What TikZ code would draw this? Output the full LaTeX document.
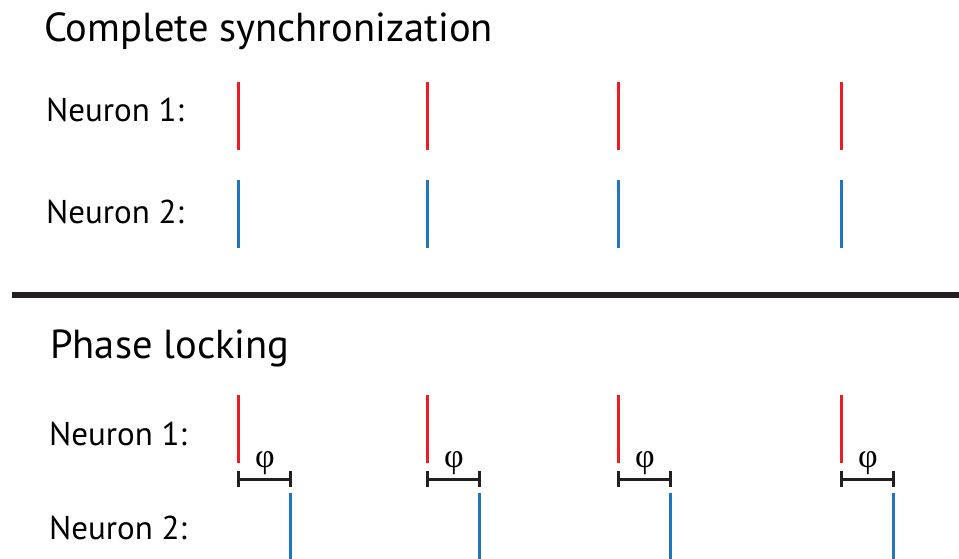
\documentclass[tikz,border=0pt]{standalone}
\usepackage{fontspec}
\setmainfont{PT Sans}
\newfontfamily\phifont{Liberation Serif}
\begin{document}
\begin{tikzpicture}[x=1pt,y=-1pt,
  spikeR/.style={draw=redc,line width=3pt},
  spikeB/.style={draw=bluec,line width=3pt},
  lbl/.style={anchor=base west,inner sep=0pt,font=\fontsize{33}{36}\selectfont},
  ttl/.style={anchor=base west,inner sep=0pt,font=\fontsize{40.5}{44}\selectfont},
  brk/.style={draw=barc,line width=3pt},
  phi/.style={inner sep=0pt,anchor=base,font=\phifont\fontsize{34}{38}\selectfont}]
\definecolor{redc}{HTML}{ED1C24}
\definecolor{bluec}{HTML}{1F75BE}
\definecolor{barc}{HTML}{231F20}
\useasboundingbox (0,0) rectangle (959,559);
\node[ttl] (t1) at (44,42) {Complete synchronization};
\node[lbl] (n11) at (46,122) {Neuron 1:};
\node[lbl] (n12) at (46,223) {Neuron 2:};
\foreach \x [count=\i] in {238,427,618,841}{
  \coordinate (ra\i) at (\x,82); \coordinate (rb\i) at (\x,150);
  \coordinate (ba\i) at (\x,180); \coordinate (bb\i) at (\x,248);
  \draw[spikeR] (ra\i) -- (rb\i);
  \draw[spikeB] (ba\i) -- (bb\i);
}
\coordinate (barL) at (12,295); \coordinate (barR) at (959,295);
\draw[draw=barc,line width=6pt] (barL) -- (barR);
\node[ttl] (t2) at (50,358) {Phase locking};
\node[lbl] (n21) at (49,445) {Neuron 1:};
\node[lbl] (n22) at (49,539) {Neuron 2:};
\foreach \x [count=\i] in {238,427,618,841}{
  \coordinate (pa\i) at (\x,395); \coordinate (pb\i) at (\x,463);
  \coordinate (qa\i) at (\x+52,493); \coordinate (qb\i) at (\x+52,559);
  \draw[spikeR] (pa\i) -- (pb\i);
  \draw[spikeB] (qa\i) -- (qb\i);
  \coordinate (k1\i) at (\x,479); \coordinate (k2\i) at (\x+52,479);
  \draw[brk] (k1\i) -- (k2\i);
  \draw[brk] (\x,471) -- (\x,487);
  \draw[brk] (\x+52,471) -- (\x+52,487);
  \node[phi] (f\i) at (\x+27,467) {φ};
}
\end{tikzpicture}
\end{document}
